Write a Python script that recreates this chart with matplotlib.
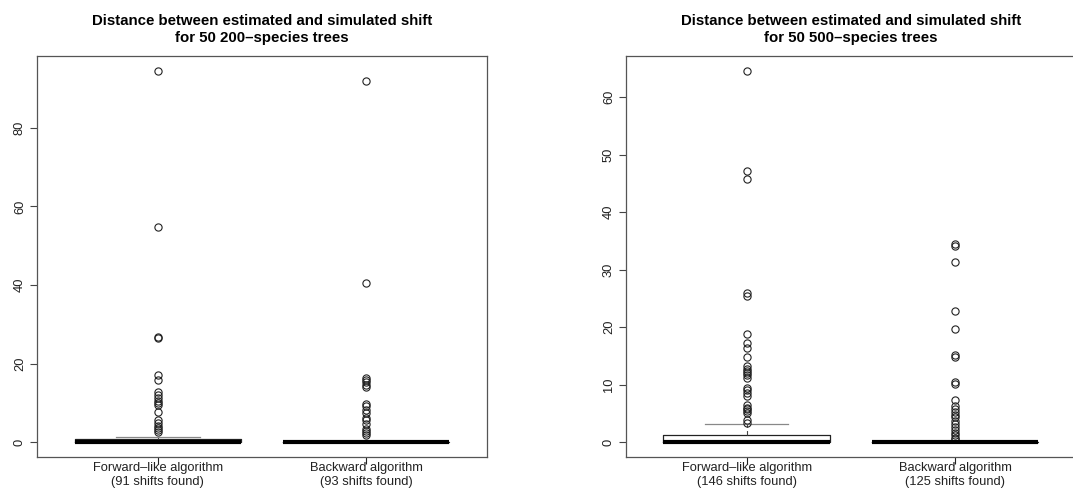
import numpy as np
import matplotlib
matplotlib.use('Agg')
import matplotlib.pyplot as plt

plt.rcParams['font.family'] = ['Liberation Sans', 'DejaVu Sans']

# ---- data (box stats + outliers) ----
group_labels = ['Forward\u2013like algorithm', 'Backward algorithm']

n_found_200 = [91, 93]
med_200 = [0.0, 0.0]
q1_200 = [0.0, 0.0]
q3_200 = [0.7, 0.0]
whislo_200 = [0.0, 0.0]
whishi_200 = [1.4, 0.0]
fliers_200_fwd = [94.5, 54.7, 26.7, 26.4, 17.0, 15.9, 12.8, 11.9, 11.2, 10.5,
                  9.9, 9.4, 7.7, 5.6, 4.8, 4.2, 3.6, 3.1, 2.7]
fliers_200_bwd = [92.0, 40.4, 16.2, 15.7, 15.2, 14.6, 14.0, 9.7, 9.1, 8.3,
                  7.4, 6.2, 5.6, 4.7, 3.4, 2.8, 2.3, 1.9]

n_found_500 = [146, 125]
med_500 = [0.0, 0.0]
q1_500 = [0.0, 0.0]
q3_500 = [1.25, 0.05]
whislo_500 = [0.0, 0.0]
whishi_500 = [3.1, 0.25]
fliers_500_fwd = [64.6, 47.2, 45.7, 26.0, 25.4, 18.9, 17.2, 16.3, 14.8, 13.2,
                  12.8, 12.4, 12.0, 11.6, 11.2, 9.4, 9.0, 8.6, 8.0, 6.4, 6.0,
                  5.7, 5.4, 5.0, 3.9, 3.4]
fliers_500_bwd = [34.4, 34.1, 31.3, 22.8, 19.6, 15.1, 14.8, 10.5, 10.1, 7.4,
                  6.3, 5.8, 5.3, 4.7, 4.3, 3.6, 3.1, 2.6, 2.1, 1.6, 1.2, 0.8, 0.5]

yticks_200 = [0, 20, 40, 60, 80]
yticks_500 = [0, 10, 20, 30, 40, 50, 60]


def make_stats(med, q1, q3, lo, hi, fliers):
    out = []
    for i in range(len(med)):
        out.append(dict(med=med[i], q1=q1[i], q3=q3[i], whislo=lo[i],
                        whishi=hi[i], fliers=fliers[i]))
    return out


def draw_panel(ax, stats, ntrees, nspecies, nfound, yticks):
    ax.bxp(stats, positions=[1, 2], widths=0.8, capwidths=0.4,
           showfliers=True, patch_artist=False,
           boxprops=dict(color='#222222', linewidth=0.9),
           medianprops=dict(color='black', linewidth=3.0, solid_capstyle='butt'),
           whiskerprops=dict(color='#444444', linewidth=0.8, linestyle=(0, (4, 3))),
           capprops=dict(color='#888888', linewidth=0.9),
           flierprops=dict(marker='o', markersize=5.2, markerfacecolor='none',
                           markeredgecolor='#222222', markeredgewidth=0.8))
    allv = []
    for s in stats:
        allv += [s['whislo'], s['whishi']] + list(s['fliers'])
    lo, hi = min(allv), max(allv)
    pad = 0.04 * (hi - lo)
    ax.set_ylim(lo - pad, hi + pad)
    ax.set_xlim(0.5 - 0.08, 2.5 + 0.08)
    ax.set_yticks(yticks)
    ax.set_yticklabels([str(t) for t in yticks], rotation=90, va='center',
                       color='#222222')
    ax.set_xticks([1, 2])
    ax.set_xticklabels(['%s\n(%d shifts found)' % (group_labels[i], nfound[i])
                        for i in range(2)], fontsize=9.3, linespacing=1.2,
                       color='#222222')
    ax.tick_params(axis='y', length=5, width=0.8, color='#444444', labelsize=9.3, pad=3)
    ax.tick_params(axis='x', length=5, width=0.8, color='#222222', pad=-1.5)
    for sp in ax.spines.values():
        sp.set_color('#555555')
        sp.set_linewidth(0.9)
    ax.set_title('Distance between estimated and simulated shift\nfor %d %d\u2013species trees'
                 % (ntrees, nspecies), fontsize=10.8, fontweight='bold', pad=10,
                 linespacing=1.25)


fig = plt.figure(figsize=(10.73, 4.97), dpi=100)
ax1 = fig.add_axes([37 / 1073, 1 - 457 / 497, 450 / 1073, 401 / 497])
ax2 = fig.add_axes([626 / 1073, 1 - 457 / 497, 450 / 1073, 401 / 497])

stats200 = make_stats(med_200, q1_200, q3_200, whislo_200, whishi_200,
                      [fliers_200_fwd, fliers_200_bwd])
stats500 = make_stats(med_500, q1_500, q3_500, whislo_500, whishi_500,
                      [fliers_500_fwd, fliers_500_bwd])

draw_panel(ax1, stats200, 50, 200, n_found_200, yticks_200)
draw_panel(ax2, stats500, 50, 500, n_found_500, yticks_500)

fig.savefig('out.png', dpi=100)
